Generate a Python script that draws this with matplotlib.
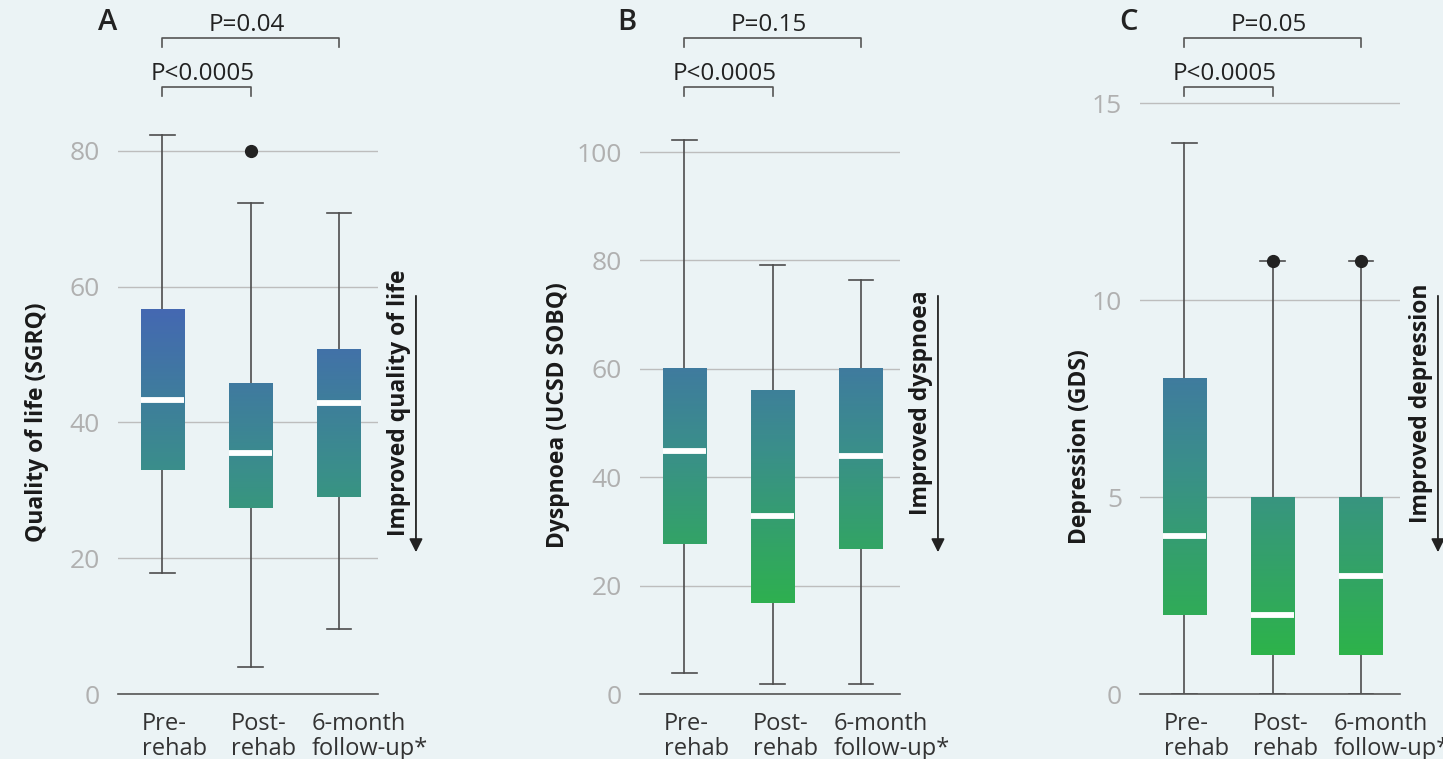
import numpy as np
import matplotlib.pyplot as plt
from matplotlib.colors import LinearSegmentedColormap, Normalize

plt.rcParams['font.family'] = ['Open Sans', 'DejaVu Sans']

groups = ["Pre-\nrehab", "Post-\nrehab", "6-month\nfollow-up*"]

# A: quality of life (SGRQ)
sgrq_q1 = [33.0, 27.4, 29.0]
sgrq_med = [43.3, 35.5, 42.9]
sgrq_q3 = [56.6, 45.7, 50.7]
sgrq_lo = [17.8, 4.0, 9.6]
sgrq_hi = [82.3, 72.3, 70.8]
sgrq_fliers = [[], [80], []]

# B: dyspnoea (UCSD SOBQ)
sobq_q1 = [27.7, 16.8, 26.8]
sobq_med = [44.8, 32.8, 43.9]
sobq_q3 = [60.1, 56.1, 60.1]
sobq_lo = [3.9, 1.8, 1.8]
sobq_hi = [102.2, 79.2, 76.4]
sobq_fliers = [[], [], []]

# C: depression (GDS)
gds_q1 = [2, 1, 1]
gds_med = [4, 2, 3]
gds_q3 = [8, 5, 5]
gds_lo = [0, 0, 0]
gds_hi = [14, 11, 11]
gds_fliers = [[], [11], [11]]

pvals = [("P=0.04", "P<0.0005"), ("P=0.15", "P<0.0005"), ("P=0.05", "P<0.0005")]

cmap = LinearSegmentedColormap.from_list("gb", ["#2db34a", "#3a8f8a", "#4566b4"])

fig = plt.figure(figsize=(14.43, 7.59), dpi=100)
fig.patch.set_facecolor("#ebf3f5")

H = 759
W = 1443
bottom = (H - 694) / H
height = 594 / H


def panel(left, q1, med, q3, lo, hi, fliers, yticks, ytop, vmin, vmax,
          ylabel, ylab_xy, letter, letter_x, ptxt, note):
    ax = fig.add_axes([left / W, bottom, 260 / W, height])
    ax.set_facecolor("none")
    pos = [1, 2, 3]
    stats = [dict(q1=q1[i], med=med[i], q3=q3[i], whislo=lo[i], whishi=hi[i],
                  fliers=fliers[i]) for i in range(3)]
    bw = 0.49
    ax.bxp(stats, positions=pos, widths=bw, capwidths=0.28, patch_artist=True,
           boxprops=dict(facecolor="none", linewidth=0),
           medianprops=dict(color="white", lw=4.2, solid_capstyle="butt", zorder=4),
           whiskerprops=dict(color="#4d4d4d", lw=1.2),
           capprops=dict(color="#4d4d4d", lw=1.2),
           flierprops=dict(marker="o", markerfacecolor="#222222",
                           markeredgecolor="#222222", markersize=8.5, zorder=5))
    norm = Normalize(vmin, vmax)
    for i, p in enumerate(pos):
        grad = np.linspace(q1[i], q3[i], 200).reshape(-1, 1)
        ax.imshow(grad, extent=(p - bw / 2, p + bw / 2, q1[i], q3[i]),
                  origin="lower", cmap=cmap, norm=norm, aspect="auto", zorder=3)
    ax.set_xlim(0.5, 3.44)
    ax.set_ylim(0, ytop)
    ax.set_yticks(yticks)
    ax.set_xticks([])
    # group labels, left aligned a little left of each box centre
    tr = ax.get_xaxis_transform()
    for p, g, off in zip(pos, groups, [0.226, 0.226, 0.316]):
        ax.text(p - off, -0.03, g, transform=tr, ha="left", va="top",
                fontsize=17, color="#333333", linespacing=1.05)
    ax.tick_params(axis="y", length=0, pad=13, labelsize=19, labelcolor="#b0b0b0")
    for s in ["left", "top", "right"]:
        ax.spines[s].set_visible(False)
    ax.spines["bottom"].set_color("#555555")
    ax.spines["bottom"].set_linewidth(1.2)
    ax.yaxis.grid(True, color="#bdbdbd", lw=1)
    ax.set_axisbelow(True)

    ax.set_ylabel(ylabel, fontsize=16.5, fontweight="bold", color="#1a1a1a")
    ax.yaxis.set_label_coords(*ylab_xy)

    ax.text(letter_x, 1.13, letter, transform=ax.transAxes, fontsize=21,
            fontweight="semibold", ha="center", va="center", color="#222222")

    # significance brackets
    def frac(py):
        return (694 - py) / 594
    for (x0, x1, ybar, yend, ytext, txt) in [(1, 3, 38, 47, 25, ptxt[0]),
                                             (1, 2, 87, 96, 74.5, ptxt[1])]:
        ax.plot([x0, x0, x1, x1], [frac(yend), frac(ybar), frac(ybar), frac(yend)],
                transform=tr, color="#555555", lw=1.2, clip_on=False)
        ax.text((x0 + x1) / 2 - 0.04, frac(ytext), txt, transform=tr, ha="center",
                va="center", fontsize=17.5, color="#222222")

    # improvement arrow
    ax.annotate("", xy=(1.146, 0.234), xytext=(1.146, 0.675), xycoords="axes fraction",
                arrowprops=dict(arrowstyle="-|>", color="#222222", lw=1.3,
                                mutation_scale=20))
    ax.text(1.08, 0.49, note, transform=ax.transAxes, rotation=90, ha="center",
            va="center", fontsize=16.5, fontweight="bold", color="#1a1a1a")
    return ax


panel(118, sgrq_q1, sgrq_med, sgrq_q3, sgrq_lo, sgrq_hi, sgrq_fliers,
      [0, 20, 40, 60, 80], 87.5, 7, 58, "Quality of life (SGRQ)", (-0.267, 0.458),
      "A", -0.038, pvals[0], "Improved quality of life")
panel(640, sobq_q1, sobq_med, sobq_q3, sobq_lo, sobq_hi, sobq_fliers,
      [0, 20, 40, 60, 80, 100], 109.6, 14, 76, "Dyspnoea (UCSD SOBQ)", (-0.27, 0.47),
      "B", -0.05, pvals[1], "Improved dyspnoea")
panel(1140, gds_q1, gds_med, gds_q3, gds_lo, gds_hi, gds_fliers,
      [0, 5, 10, 15], 15.08, 1, 10.5, "Depression (GDS)", (-0.185, 0.416),
      "C", -0.046, pvals[2], "Improved depression")

fig.savefig("out.png", dpi=100, facecolor=fig.get_facecolor())
